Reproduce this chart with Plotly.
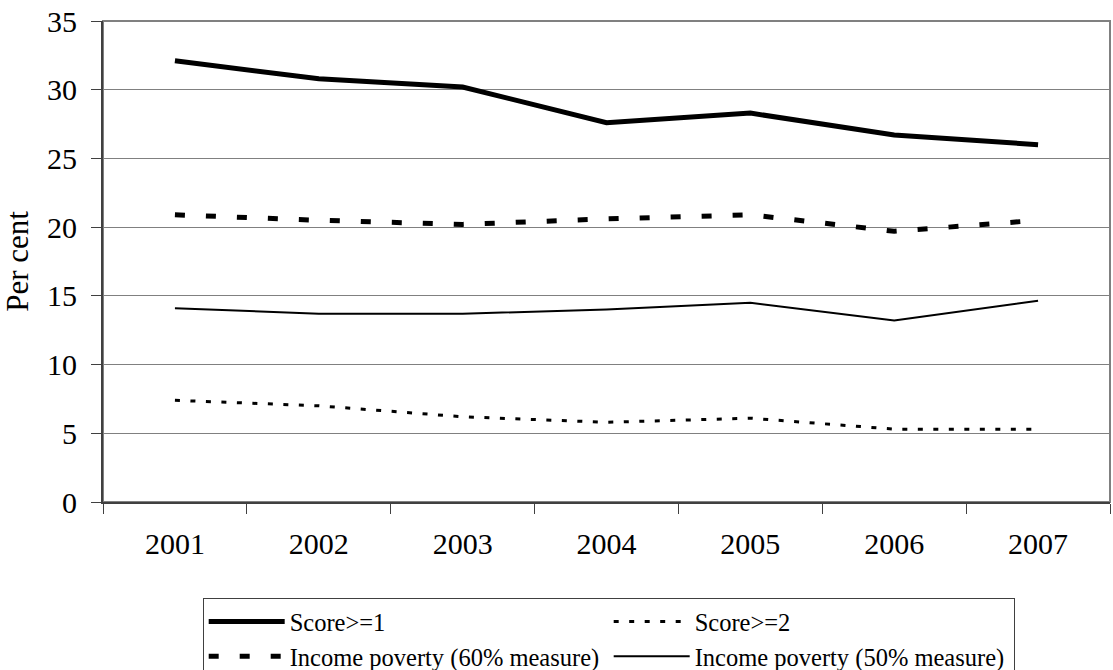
import plotly.graph_objects as go

years = ["2001", "2002", "2003", "2004", "2005", "2006", "2007"]
score_ge1 = [32.1, 30.8, 30.2, 27.6, 28.3, 26.7, 26.0]
score_ge2 = [7.4, 7.0, 6.2, 5.8, 6.1, 5.3, 5.3]
income_60 = [20.9, 20.5, 20.2, 20.6, 20.9, 19.7, 20.5]
income_50 = [14.1, 13.7, 13.7, 14.0, 14.5, 13.2, 14.65]

FONT = "Liberation Serif"

fig = go.Figure()
fig.add_trace(go.Scatter(x=years, y=score_ge1, mode="lines", name="Score>=1",
                         line=dict(color="black", width=5)))
fig.add_trace(go.Scatter(x=years, y=score_ge2, mode="lines", name="Score>=2",
                         line=dict(color="black", width=3, dash="5px,10.5px")))
fig.add_trace(go.Scatter(x=years, y=income_60, mode="lines",
                         name="Income poverty (60% measure)",
                         line=dict(color="black", width=5, dash="10px,21px")))
fig.add_trace(go.Scatter(x=years, y=income_50, mode="lines",
                         name="Income poverty (50% measure)",
                         line=dict(color="black", width=2)))

# plot-area frame (top gridline and right edge are grey)
fig.add_shape(type="rect", xref="paper", yref="paper", x0=0, x1=1, y0=0, y1=1,
              line=dict(color="#808080", width=2), layer="below")

fig.update_layout(
    width=1113, height=670,
    margin=dict(l=103, r=3, t=21, b=168, autoexpand=False),
    paper_bgcolor="white", plot_bgcolor="white",
    font=dict(family=FONT, color="black", size=30),
    showlegend=True,
    legend=dict(
        orientation="h",
        x=0.099, y=-0.1996, xanchor="left", yanchor="top",
        bordercolor="#404040", borderwidth=1,
        font=dict(family=FONT, size=24.5, color="black"),
        itemwidth=76,
        entrywidth=314, entrywidthmode="pixels",
        traceorder="normal",
    ),
    xaxis=dict(
        type="category",
        tickson="boundaries",
        ticks="outside", ticklen=10, tickcolor="#404040", tickwidth=1,
        showline=True, linecolor="#404040", linewidth=2,
        showgrid=False,
        tickfont=dict(family=FONT, size=30, color="black"),
        ticklabelstandoff=14,
        range=[-0.5, 6.5],
    ),
    yaxis=dict(
        range=[0, 35], dtick=5,
        ticks="outside", ticklen=10, tickcolor="#404040", tickwidth=1,
        showline=True, linecolor="#404040", linewidth=2,
        showgrid=True, gridcolor="#808080", gridwidth=1,
        zeroline=False,
        tickfont=dict(family=FONT, size=30, color="black"),
        ticklabelstandoff=8,
        title=dict(text="Per cent", font=dict(family=FONT, size=31, color="black"),
                   standoff=10),
    ),
)

fig.write_html("out.html")
